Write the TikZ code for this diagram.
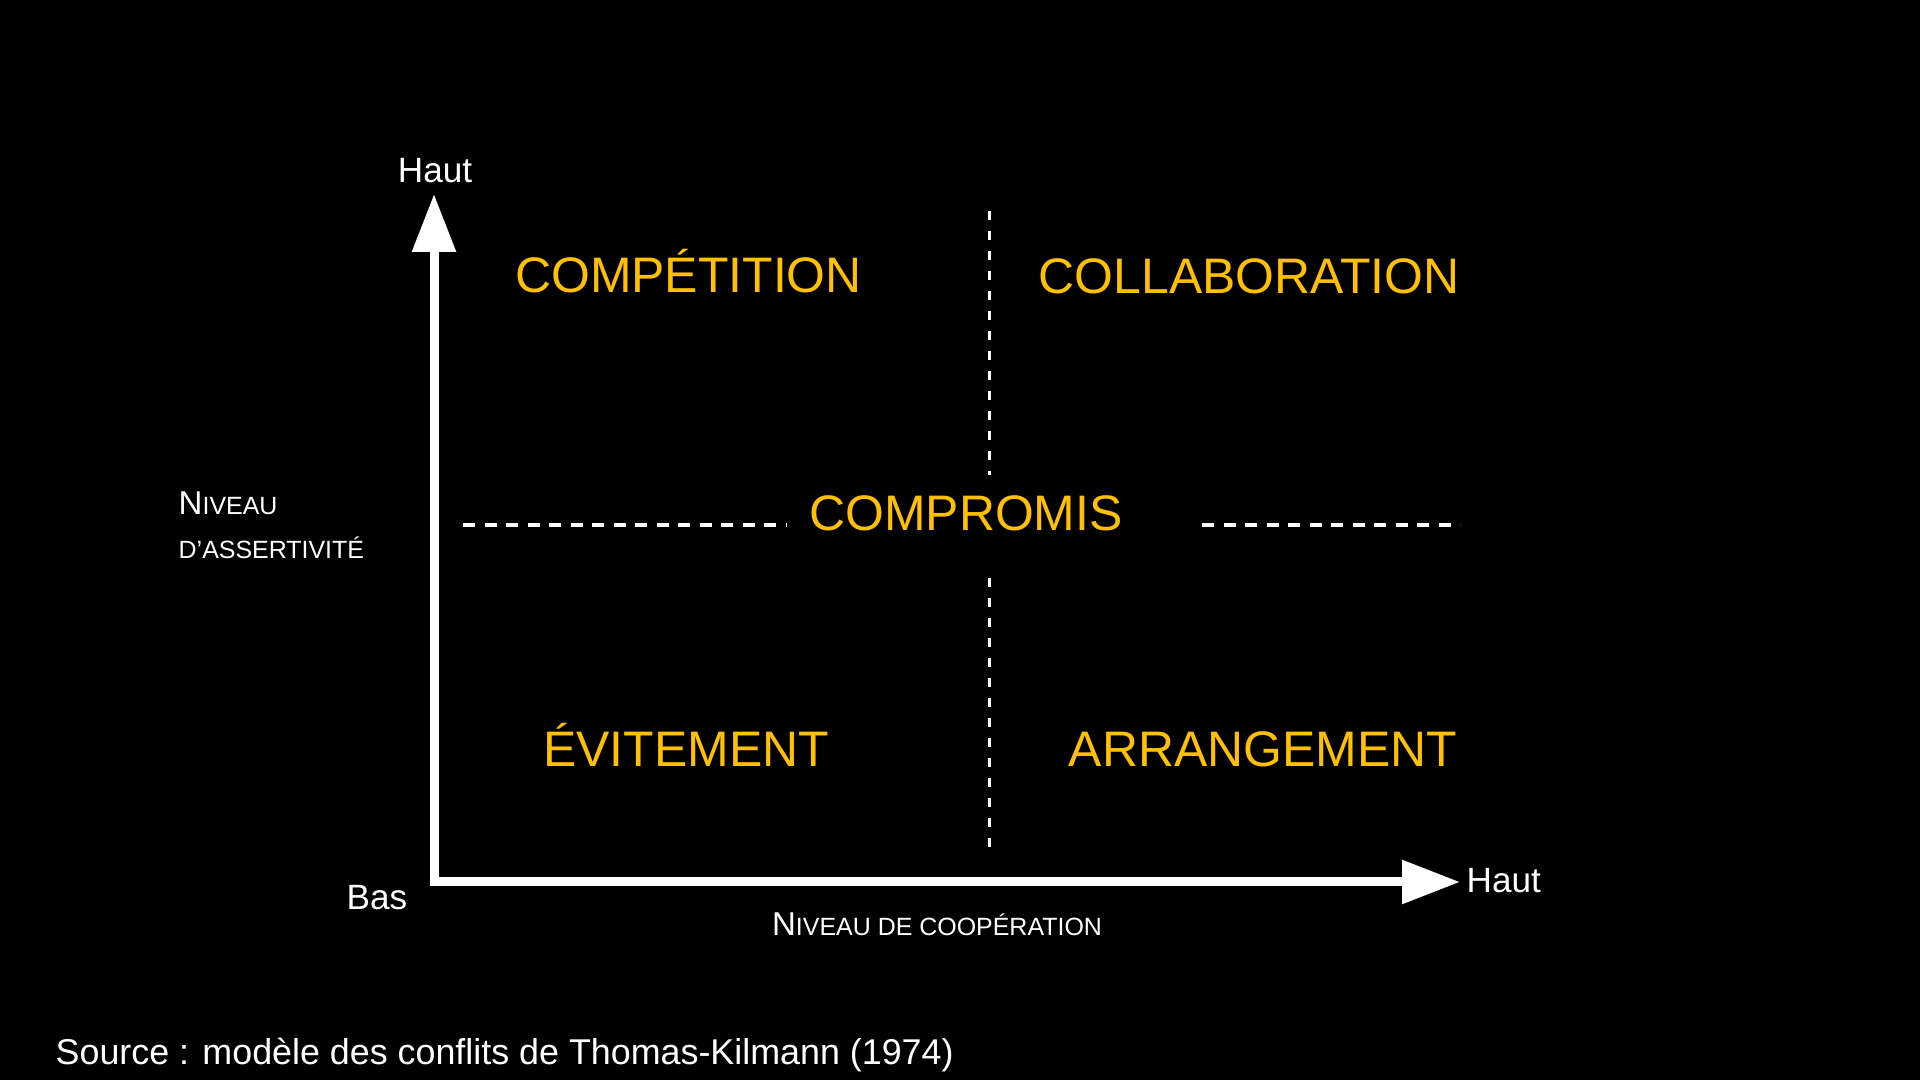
\documentclass[tikz,border=0pt]{standalone}
\usepackage{fontspec}
\setmainfont{Liberation Sans}
\usetikzlibrary{arrows.meta}
\definecolor{quadgold}{RGB}{255,192,0}
\newcommand{\capsz}{\fontsize{9.4}{11}\selectfont}
\newcommand{\smcsz}{\fontsize{7.1}{9}\selectfont}

\begin{document}
\begin{tikzpicture}[>={Triangle[length=5.8mm,width=4.2mm]},
  every node/.style={inner sep=0pt,text=white},
  quad/.style={text=quadgold,font=\fontsize{14.2}{17}\selectfont,anchor=base},
  axlab/.style={font=\fontsize{10}{12}\selectfont},
  vsep/.style={white,line width=0.85pt,dash pattern=on 0.9mm off 1.1mm},
  hsep/.style={white,line width=0.95pt,dash pattern=on 1.2mm off 0.95mm}]
  \fill[black] (0,0) rectangle (19.2,10.8);
  \useasboundingbox (0,0) rectangle (19.2,10.8);
  % axes
  \coordinate (origin) at (4.34,1.98);
  \coordinate (ytip) at (4.34,8.86);
  \coordinate (xtip) at (14.60,1.98);
  \draw[<->,white,line width=0.09cm] (ytip) -- (origin) -- (xtip);
  \node[axlab,anchor=base] (ytop) at (4.35,8.97) {Haut};
  \node[axlab,anchor=base west] (xend) at (14.66,1.87) {Haut};
  \node[axlab,anchor=base west] (bas) at (3.46,1.70) {Bas};
  \node[anchor=base] (xlab) at (9.37,1.44) {\capsz N\smcsz IVEAU DE COOPÉRATION};
  \node[anchor=base west] (ylab1) at (1.78,5.65) {\capsz N\smcsz IVEAU};
  \node[anchor=base west] (ylab2) at (1.78,5.21) {\smcsz D’ASSERTIVITÉ};
  % separators
  \coordinate (vtopa) at (9.89,8.69);
  \coordinate (vtopb) at (9.89,6.05);
  \coordinate (vbota) at (9.89,5.02);
  \coordinate (vbotb) at (9.89,2.27);
  \coordinate (hlefta) at (4.63,5.55);
  \coordinate (hleftb) at (7.87,5.55);
  \coordinate (hrighta) at (12.02,5.55);
  \coordinate (hrightb) at (14.60,5.55);
  \draw[vsep] (vtopa) -- (vtopb);
  \draw[vsep] (vbota) -- (vbotb);
  \draw[hsep] (hlefta) -- (hleftb);
  \draw[hsep] (hrighta) -- (hrightb);
  % quadrants
  \node[quad] (competition) at (6.885,7.87) {COMPÉTITION};
  \node[quad] (collaboration) at (12.49,7.86) {COLLABORATION};
  \node[quad] (compromis) at (9.66,5.49) {COMPROMIS};
  \node[quad] (evitement) at (6.86,3.13) {ÉVITEMENT};
  \node[quad] (arrangement) at (12.63,3.13) {ARRANGEMENT};
  \node[anchor=base west,font=\fontsize{10.2}{12}\selectfont] (source) at (0.55,0.15)
    {Source : modèle des conflits de Thomas-Kilmann (1974)};
\end{tikzpicture}
\end{document}
